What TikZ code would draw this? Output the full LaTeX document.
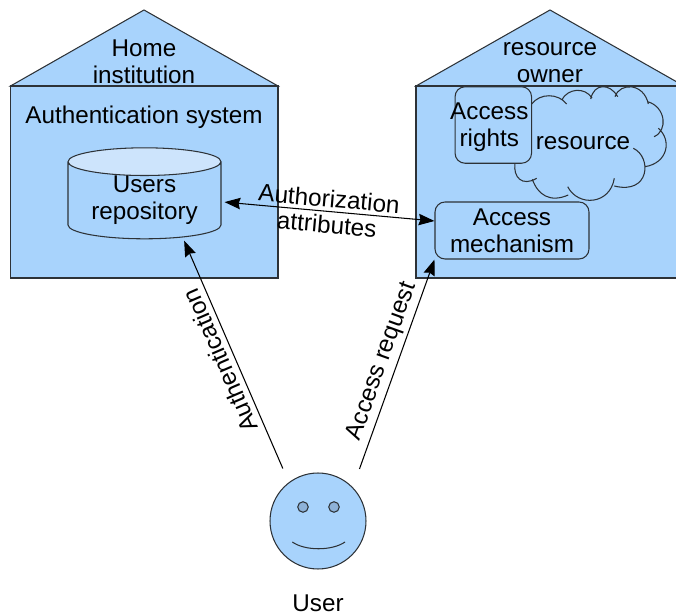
\documentclass[tikz,border=0pt]{standalone}
\usepackage{fontspec}
\setmainfont{Liberation Sans}
\usepackage{xcolor}
\definecolor{housecolor}{RGB}{168, 211, 252}
\definecolor{topcolor}{RGB}{205, 228, 252}
\definecolor{eyecolor}{RGB}{142, 178, 216}
\definecolor{inkcolor}{RGB}{45, 50, 55}
\usetikzlibrary{arrows.meta, shapes.geometric}

\begin{document}
\begin{tikzpicture}[
    x=0.02cm,y=0.02cm,line width=0.6pt,
    every node/.style={font=\fontsize{13.8}{15.3}\selectfont,align=center,inner sep=0pt},
    outline/.style={draw=inkcolor,fill=housecolor},
    roundbox/.style={outline,rectangle,rounded corners=0.2cm},
    flow/.style={-{Stealth[length=9pt,width=6.5pt,inset=1pt]},black}
  ]
  \useasboundingbox (0,0) rectangle (676,615);
  \clip (0,0) rectangle (676,615);

  % the two houses
  \draw[outline] (10.5,529) -- (144,605) -- (278,529) -- cycle;
  \draw[outline] (10.5,337) rectangle (278,529);
  \draw[outline] (416,529) -- (550,605) -- (684,529) -- cycle;
  \draw[outline] (416,337) rectangle (684,529);
  \node (home) at (144,553) {Home\\institution};
  \node (owner) at (550,552) {resource\\owner};
  \node (authsys) at (144,498) {Authentication system};

  \node (repo) at (144.5,414.5) [
      cylinder,shape border rotate=90,aspect=0.26,draw=inkcolor,
      cylinder uses custom fill,cylinder body fill=housecolor,cylinder end fill=topcolor,
      minimum height=1.82cm,minimum width=3.06cm
  ] {Users\\repository};

  % cloud
  \draw[inkcolor]
    (531.7,511) .. controls (540,522) and (558,522) .. (566.7,511)
    (561.7,515) .. controls (568,527) and (585,528) .. (592,517)
    (590.7,516) .. controls (594,532) and (610,532) .. (617.7,518.3)
    (615,518.3) .. controls (620,533) and (644,532) .. (648.3,511)
    (647.7,513.3) .. controls (666,508) and (668,484) .. (654,478.3)
    (658.3,486.7) .. controls (672,475) and (668,452) .. (645,448.3)
    (633.3,466.7) .. controls (652,458) and (650,420) .. (614.3,429)
    (614.3,436.7) .. controls (610,410) and (578,408) .. (567.7,428.3)
    (568.3,420) .. controls (550,412) and (538,420) .. (532.3,435.7)
    (536.7,436.7) .. controls (522,428) and (513,438) .. (515,451.7);
  \node (resource) at (583,472) {resource};

  \node (rights) at (493.3,490) [
      roundbox,minimum width=1.53cm,minimum height=1.53cm,
      label={[xshift=-0.08cm,yshift=-0.05cm]center:{Access\\rights}}
  ] {};
  \node (mech) at (512,384.5) [roundbox,minimum width=3.08cm,minimum height=1.14cm] {Access\\mechanism};

  % user
  \node (face) at (318,94) [outline,circle,minimum size=1.92cm] {};
  \node (eyeL) at (303,108) [draw=inkcolor,fill=eyecolor,circle,minimum size=0.21cm] {};
  \node (eyeR) at (334,108) [draw=inkcolor,fill=eyecolor,circle,minimum size=0.21cm] {};
  \draw[inkcolor] (292.3,73) .. controls (305,64) and (332,64) .. (345,73);
  \node (user) at (318,12) {User};

  \path[flow,{Stealth[length=9pt,width=6.5pt,inset=1pt]}-{Stealth[length=9pt,width=6.5pt,inset=1pt]}]
    (repo.-1) edge[shorten <=0.06cm]
      node[sloped,above=2pt] {Authorization}
      node[sloped,below=2pt] {attributes} (mech.173);
  \path[flow]
    (face.127) edge[shorten <=0.3cm,shorten >=0.07cm]
      node[pos=0.52,sloped,allow upside down,above=3pt] {Authentication} (repo.-44)
    (face.44) edge[shorten <=0.39cm]
      node[pos=0.53,sloped,above=2pt] {Access request} (mech.south west)
    ;
\end{tikzpicture}
\end{document}
